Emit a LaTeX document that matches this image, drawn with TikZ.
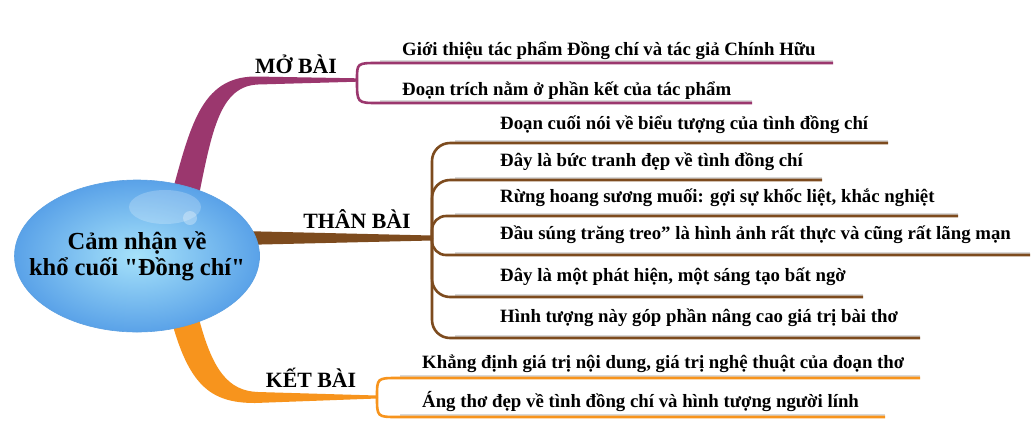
\documentclass[tikz,border=0pt]{standalone}
\usepackage{fontspec}
\setmainfont{Liberation Serif}[Ligatures=TeXOff]
\usetikzlibrary{shapes.geometric}
\definecolor{pur}{HTML}{9B376E}
\definecolor{brn}{HTML}{7D4B1E}
\definecolor{org}{HTML}{F7941D}
\definecolor{elIn}{HTML}{A6E2FA}
\definecolor{elOut}{HTML}{5AA2E8}
\definecolor{elEdge}{HTML}{5CA0E2}
\begin{document}
\begin{tikzpicture}[x=1pt,y=-1pt,
  subtext/.style={anchor=base west,inner sep=0pt,font=\fontsize{18.8}{22}\selectfont\bfseries},
  lbltext/.style={anchor=base,inner sep=0pt,font=\fontsize{21.8}{26}\selectfont\bfseries},
  ctext/.style={anchor=base,inner sep=0pt,font=\fontsize{24.5}{28}\selectfont\bfseries},
  shadowline/.style={line width=2pt,draw=gray!30},
  pline/.style={line width=2.6pt,draw=pur},
  bline/.style={line width=2.6pt,draw=brn,rounded corners=18pt},
  oline/.style={line width=2.6pt,draw=org},
]
\useasboundingbox (0,0) rectangle (1032,432);
\fill[white] (0,0) rectangle (1032,432);

% junctions
\coordinate (mj) at (357,80);
\coordinate (tj) at (432,238);
\coordinate (kj) at (377,397);

% thick branches
\fill[pur] (170,200) .. controls (190,128) and (200,77) .. (255,76.5) -- (357,78.3) -- (357,81.7) -- (258,84.5) .. controls (220,86) and (212,130) .. (198,200) -- cycle;
\fill[brn] (240,231) -- (432,235.5) -- (432,240.5) -- (240,245) -- cycle;
\fill[org] (170,315) .. controls (188,385) and (210,403) .. (255,403) -- (377,398.5) -- (377,395.5) -- (258,392) .. controls (228,391) and (212,370) .. (198,315) -- cycle;

% central ellipse
\node[ellipse,minimum width=245pt,minimum height=152pt,inner color=elIn,outer color=elOut,draw=elEdge,line width=0.6pt,inner sep=0pt] (c) at (137,256) {};
\fill[white,opacity=0.22] (165,207) ellipse [x radius=36pt,y radius=17pt];
\fill[white,opacity=0.3] (190,218) circle [radius=7pt];
\node[ctext] (c1) at (137,249) {Cảm nhận về};
\node[ctext] (c2) at (137,275) {khổ cuối "Đồng chí"};

% labels
\node[lbltext] (mo) at (296,73) {MỞ BÀI};
\node[lbltext] (than) at (357,228) {THÂN BÀI};
\node[lbltext] (ket) at (311,387) {KẾT BÀI};

% MO BAI leaves
\coordinate (m1) at (833,63);
\coordinate (m2) at (752,103);
\draw[shadowline] ([yshift=2.5pt]m1) -- ([yshift=2.5pt]m1 -| 380,0);
\draw[shadowline] ([yshift=2.5pt]m2) -- ([yshift=2.5pt]m2 -| 380,0);
\draw[pline] (mj) .. controls (357,63) .. (378,63) -- (m1);
\draw[pline] (mj) .. controls (357,103) .. (378,103) -- (m2);
\node[subtext] (t1) at (402,55) {Giới thiệu tác phẩm Đồng chí và tác giả Chính Hữu};
\node[subtext] (t2) at (402,95) {Đoạn trích nằm ở phần kết của tác phẩm};

% THAN BAI leaves
\coordinate (b1) at (888,143);
\coordinate (b2) at (822,180);
\coordinate (b3) at (958,216);
\coordinate (b4) at (1030,255);
\coordinate (b5) at (863,297);
\coordinate (b6) at (920,338);
\foreach \p in {b1,b2,b3,b4,b5,b6}{
  \draw[shadowline] ([yshift=2.5pt]\p) -- ([yshift=2.5pt]\p -| 455,0);
}
\draw[bline] (tj) |- (b1);
\draw[bline] (tj) |- (b2);
\draw[bline,rounded corners=14pt] (tj) |- (b3);
\draw[bline,rounded corners=14pt] (tj) |- (b4);
\draw[bline] (tj) |- (b5);
\draw[bline] (tj) |- (b6);
\node[subtext] (s1) at (500,129) {Đoạn cuối nói về biểu tượng của tình đồng chí};
\node[subtext] (s2) at (500,166) {Đây là bức tranh đẹp về tình đồng chí};
\node[subtext] (s3) at (500,202) {Rừng hoang sương muối: gợi sự khốc liệt, khắc nghiệt};
\node[subtext] (s4) at (500,239) {Đầu súng trăng treo” là hình ảnh rất thực và cũng rất lãng mạn};
\node[subtext] (s5) at (500,281) {Đây là một phát hiện, một sáng tạo bất ngờ};
\node[subtext] (s6) at (500,322) {Hình tượng này góp phần nâng cao giá trị bài thơ};

% KET BAI leaves
\coordinate (k1) at (920,378);
\coordinate (k2) at (885,417);
\draw[shadowline] ([yshift=2.5pt]k1) -- ([yshift=2.5pt]k1 -| 400,0);
\draw[shadowline] ([yshift=2.5pt]k2) -- ([yshift=2.5pt]k2 -| 400,0);
\draw[oline] (kj) .. controls (377,378) .. (398,378) -- (k1);
\draw[oline] (kj) .. controls (377,417) .. (398,417) -- (k2);
\node[subtext] (u1) at (422,368) {Khẳng định giá trị nội dung, giá trị nghệ thuật của đoạn thơ};
\node[subtext] (u2) at (422,407) {Áng thơ đẹp về tình đồng chí và hình tượng người lính};
\end{tikzpicture}
\end{document}
